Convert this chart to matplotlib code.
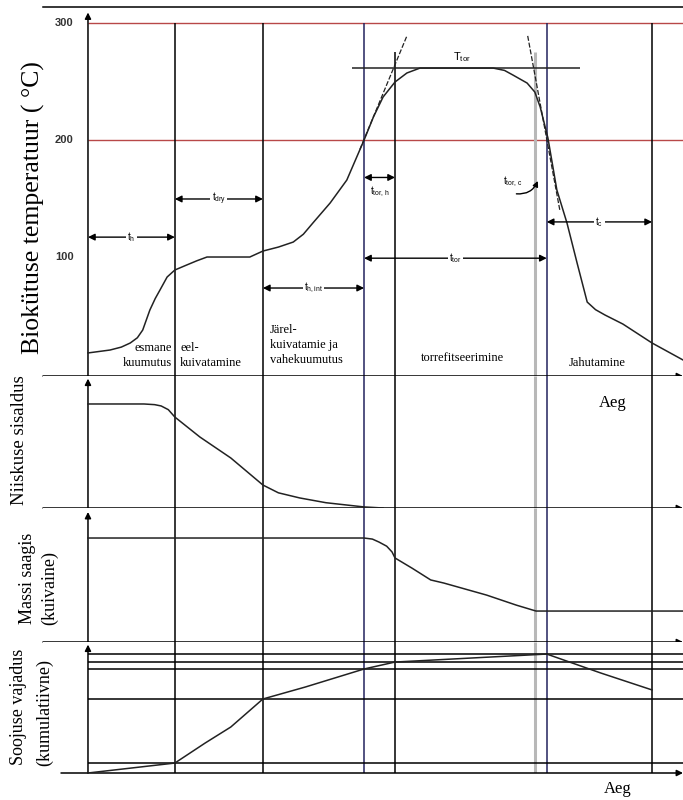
import matplotlib
matplotlib.use('Agg')
import matplotlib.pyplot as plt

plt.rcParams['font.family'] = ['Liberation Serif', 'DejaVu Serif']
plt.rcParams['mathtext.fontset'] = 'custom'
plt.rcParams['mathtext.rm'] = 'Liberation Sans'

W, H = 683, 800
SANS = 'Liberation Sans'

# time runs from 0 to 100 (arbitrary units), phase boundaries
phase_edges = [14.6, 29.4, 46.4, 51.6, 75.1, 77.1, 94.8]
edge_colours = ['black', 'black', '#23235e', 'black', '#b8b8b8', '#23235e', 'black']
edge_widths = [1.1, 1.1, 1.1, 1.1, 2.2, 1.1, 1.1]
edge_tops = [300, 300, 300, 275, 275, 300, 300]

# biomass temperature, degC
temp_t = [0, 3.7, 5.6, 7.1, 8.3, 9.2, 10.4, 11.3, 12.1, 13.3, 14.6, 16.6, 18.3, 20.0,
          27.2, 29.4, 32.0, 34.5, 36.2, 37.8, 40.7, 43.5, 46.4, 48.0, 49.6, 51.6, 53.6,
          55.8, 68.1, 70.0, 71.4, 73.8, 75.1, 76.0, 77.3, 78.8, 80.5, 82.2, 83.9, 85.3,
          86.9, 89.9, 94.8, 100]
temp_c = [18, 20.5, 23.0, 26.5, 31.0, 37.6, 54.7, 64.5, 71.8, 82.9, 88.9, 93.2, 96.8, 100,
          100, 105.1, 108.5, 112.8, 119.5, 129.1, 146.2, 165.8, 200, 220, 236.8, 249.6, 257.3,
          261.5, 261.5, 259.5, 255.6, 248.7, 241.0, 228.2, 201.7, 157.3, 129.1, 94.9, 61.5, 55.0,
          50.4, 42.7, 26.5, 12.0]
t_tor_level = 261.5
ref_temps = [200, 300]
temp_ticks = [100, 200, 300]

# tangent lines at the heating and cooling flanks
tan_heat_t = [45.7, 53.6]
tan_heat_c = [192, 289]
tan_cool_t = [73.9, 79.3]
tan_cool_c = [289, 140]

# moisture content
moist_t = [0, 9.4, 11.2, 12.3, 13.5, 14.6, 18.8, 24.0, 29.4, 32.0, 35.6, 40.0, 46.4, 49.6]
moist_v = [78.8, 78.8, 78.3, 77.3, 74.5, 68.9, 53.8, 37.9, 17.4, 11.5, 7.6, 4.0, 0.8, 0]

# mass yield (dry basis)
mass_t = [0, 46.4, 47.8, 48.9, 50.2, 51.1, 51.6, 54.5, 57.6, 59.8, 67.0, 72.0, 75.3, 100]
mass_v = [77.6, 77.6, 76.8, 74.6, 71.5, 67.2, 62.7, 55.0, 46.3, 44.0, 35.0, 27.5, 23.1, 23.1]

# cumulative heat demand
heat_t = [0, 14.6, 19.7, 24.0, 29.4, 36.5, 46.4, 51.6, 77.1, 86.2, 94.8]
heat_q = [0, 7.6, 22.9, 35.1, 56.5, 65.6, 79.4, 84.7, 90.8, 76.3, 63.4]
heat_marks = [1, 4, 6, 7, 8]

T_MIN, T_MAX = -1.7, 313.7
X_MIN, X_MAX = -7.56, 100


def panel(fig, top, bottom, ylim):
    ax = fig.add_axes([43 / W, 1 - bottom / H, (W - 43) / W, (bottom - top) / H])
    ax.set_xlim(X_MIN, X_MAX)
    ax.set_ylim(*ylim)
    ax.set_xticks([])
    ax.set_yticks([])
    for s in ax.spines.values():
        s.set_visible(False)
    return ax


def axis_arrows(ax, y_top, x_start=0.0):
    lo = ax.get_ylim()[0]
    ax.annotate('', xy=(1.0, 0), xytext=(x_start, 0), xycoords='axes fraction',
                arrowprops=dict(arrowstyle='-|>', color='black', lw=1.1,
                                shrinkA=0, shrinkB=0, mutation_scale=9))
    ax.annotate('', xy=(0, y_top), xytext=(0, lo),
                arrowprops=dict(arrowstyle='-|>', color='black', lw=1.1,
                                shrinkA=0, shrinkB=0, mutation_scale=9))


def phase_lines(ax, tops=None):
    lo, hi = ax.get_ylim()
    for i, t in enumerate(phase_edges):
        top = hi if tops is None else tops[i]
        ax.vlines(t, lo, top, color=edge_colours[i], lw=edge_widths[i], zorder=1)


def span(ax, t0, t1, y, label, label_y=None):
    ax.annotate('', xy=(t1, y), xytext=(t0, y),
                arrowprops=dict(arrowstyle='<|-|>', color='black', lw=1.0,
                                shrinkA=0, shrinkB=0, mutation_scale=10))
    if label_y is None:
        ax.text((t0 + t1) / 2, y, label, ha='center', va='center', fontsize=7, family=SANS,
                bbox=dict(fc='white', ec='none', pad=1.0), zorder=5)
    else:
        ax.text((t0 + t1) / 2, label_y, label, ha='center', va='center', fontsize=7,
                family=SANS)


fig = plt.figure(figsize=(W / 100, H / 100), dpi=100)

# temperature panel
ax1 = panel(fig, 7, 376, (T_MIN, T_MAX))
ax1.spines['top'].set_visible(True)
ax1.spines['top'].set_linewidth(1.1)
for T in ref_temps:
    ax1.hlines(T, 0, X_MAX, color='#b84848', lw=1.0, zorder=1)
phase_lines(ax1, edge_tops)
axis_arrows(ax1, 309)
ax1.plot(temp_t, temp_c, color='#222222', lw=1.1, solid_joinstyle='round', zorder=3)
ax1.hlines(t_tor_level, 44.4, 82.7, color='#222222', lw=1.1, zorder=2)
ax1.plot(tan_heat_t, tan_heat_c, color='#222222', lw=0.9, ls=(0, (4, 1.5)), zorder=2)
ax1.plot(tan_cool_t, tan_cool_c, color='#222222', lw=0.9, ls=(0, (4, 1.5)), zorder=2)
for T in temp_ticks:
    ax1.text(-4.0, T, str(T), ha='center', va='center', fontsize=8, fontweight='bold',
             family=SANS, color='#333333')

span(ax1, 0, phase_edges[0], 117, r'$\mathregular{t_h}$')
span(ax1, phase_edges[0], phase_edges[1], 149.6, r'$\mathregular{t_{dry}}$')
span(ax1, phase_edges[1], phase_edges[2], 73.5, r'$\mathregular{t_{h,int}}$')
span(ax1, phase_edges[2], phase_edges[3], 168, r'$\mathregular{t_{tor,h}}$', label_y=156)
span(ax1, phase_edges[2], phase_edges[5], 99, r'$\mathregular{t_{tor}}$')
span(ax1, phase_edges[5], phase_edges[6], 130, r'$\mathregular{t_c}$')
ax1.text(62.9, 271, r'$\mathregular{T_{tor}}$', ha='center', va='center', fontsize=8,
         family=SANS)
ax1.text(71.4, 164, r'$\mathregular{t_{tor,c}}$', ha='center', va='center', fontsize=7,
         family=SANS)
ax1.annotate('', xy=(75.6, 165), xytext=(72.0, 154),
             arrowprops=dict(arrowstyle='-|>', color='black', lw=1.0, shrinkA=0, shrinkB=0,
                             mutation_scale=8, connectionstyle='arc3,rad=0.35'))

ax1.text(14.1, 15.5, 'esmane\nkuumutus', ha='right', va='center', fontsize=9,
         multialignment='right', linespacing=1.35)
ax1.text(15.5, 15.5, 'eel-\nkuivatamine', ha='left', va='center', fontsize=9, linespacing=1.35)
ax1.text(30.6, 24.5, 'Järel-\nkuivatamie ja\nvahekuumutus', ha='left', va='center',
         fontsize=9, linespacing=1.35)
ax1.text(62.9, 13.7, 'torrefitseerimine', ha='center', va='center', fontsize=9)
ax1.text(85.5, 9.4, 'Jahutamine', ha='center', va='center', fontsize=9)

# moisture panel
ax2 = panel(fig, 376, 508, (0, 100))
phase_lines(ax2)
axis_arrows(ax2, 98)
ax2.plot(moist_t, moist_v, color='#222222', lw=1.1, solid_joinstyle='round', zorder=3)
ax2.text(88.2, 79.5, 'Aeg', ha='center', va='center', fontsize=12)

# mass yield panel
ax3 = panel(fig, 508, 642, (0, 100))
phase_lines(ax3)
axis_arrows(ax3, 97)
ax3.plot(mass_t, mass_v, color='#222222', lw=1.1, solid_joinstyle='round', zorder=3)

# heat demand panel
ax4 = panel(fig, 642, 773, (0, 100))
phase_lines(ax4)
for i in heat_marks:
    ax4.hlines(heat_q[i], 0, X_MAX, color='black', lw=1.1, zorder=1)
axis_arrows(ax4, 98, x_start=18 / 640)
ax4.plot(heat_t, heat_q, color='#222222', lw=1.1, solid_joinstyle='round', zorder=3)

fig.text(33 / W, 1 - 208 / H, 'Biokütuse temperatuur ( °C)', rotation=90,
         ha='center', va='center', fontsize=18.5)
fig.text(20 / W, 1 - 440 / H, 'Niiskuse sisaldus', rotation=90,
         ha='center', va='center', fontsize=13.5)
fig.text(27 / W, 1 - 578 / H, 'Massi saagis', rotation=90,
         ha='center', va='center', fontsize=13)
fig.text(50 / W, 1 - 588 / H, '(kuivaine)', rotation=90,
         ha='center', va='center', fontsize=13)
fig.text(19 / W, 1 - 707 / H, 'Soojuse vajadus', rotation=90,
         ha='center', va='center', fontsize=13)
fig.text(45 / W, 1 - 713 / H, '(kumulatiivne)', rotation=90,
         ha='center', va='center', fontsize=13)
fig.text(618 / W, 1 - 789 / H, 'Aeg', ha='center', va='center', fontsize=12)

fig.savefig('out.png', dpi=100)
